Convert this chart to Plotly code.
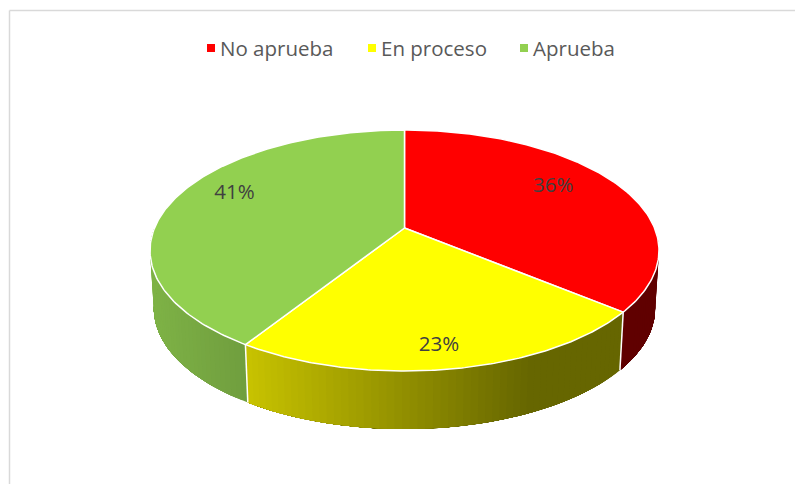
import numpy as np
import plotly.graph_objects as go

categories = ["No aprueba", "En proceso", "Aprueba"]
values = [36, 23, 41]
labels = ["36%", "23%", "41%"]
top_colors = ["#ff0000", "#ffff00", "#92d050"]

# Styling and projection (pixel-sized plot area)
W, H = 795, 484
CX, CY, A, B, K = 404.5, 228, 250, 116.3, 0.187
DEPTH, SHRINK = 58, 0.985
LABEL_R = [0.71, 0.72, 0.745]
LABEL_DY = [-9, 16, -11]
LEGEND_MARK_X = [211, 372, 524]
LEGEND_TEXT_X = [220, 381, 533]
LEGEND_Y = 48


def side_color(i, x):
    """Shaded wall colour: gradients run left to right across each wall."""
    if i == 0:
        return (96, 0, 0)
    if i == 1:
        t = np.clip((x - 245) / (530 - 245), 0, 1)
        return tuple((1 - t) * np.array([200, 195, 0]) + t * np.array([102, 102, 0]))
    t = np.clip((x - 152) / (245 - 152), 0, 1)
    return tuple((1 - t) * np.array([126, 178, 70]) + t * np.array([112, 158, 62]))


def proj(theta, r=1.0):
    d = 1 + K * np.cos(theta) * r
    return CX + A * r * np.sin(theta) / d, CY - B * r * np.cos(theta) / d


def base(theta):
    x, y = proj(theta)
    return CX + (x - CX) * SHRINK, y + DEPTH


def css(c):
    return "rgb(%d,%d,%d)" % tuple(int(round(v)) for v in c)


fracs = np.array(values) / sum(values)
edges = np.concatenate([[0], np.cumsum(fracs)]) * 2 * np.pi

fig = go.Figure()

# Walls: only the near half of the rim is visible. Each band overlaps the next
# ones so no antialiased gaps appear between them.
for i in range(3):
    start, end = edges[i], edges[i + 1]
    lo, hi = max(start, np.pi * 0.5), min(end, np.pi * 1.5)
    if hi <= lo:
        continue
    n = max(int((hi - lo) * 40), 1)
    ts = np.linspace(lo, hi, n + 1)
    # go from the right-hand side to the left for walls so later bands cover earlier
    for j in range(n):
        seg = np.linspace(ts[j], hi, max(int((hi - ts[j]) * 40), 2))
        xt, yt = proj(seg)
        xb, yb = base(seg)
        px = np.concatenate([xt, xb[::-1], xt[:1]])
        py = np.concatenate([yt, yb[::-1], yt[:1]])
        xm = proj((ts[j] + ts[j + 1]) / 2)[0]
        col = css(side_color(i, xm))
        fig.add_trace(go.Scatter(
            x=px, y=py, mode="lines", fill="toself", fillcolor=col,
            line=dict(color=col, width=0), showlegend=False, hoverinfo="skip"))

# White seams between walls
for e in edges[1:3]:
    x0, y0 = proj(e)
    x1, y1 = base(e)
    fig.add_trace(go.Scatter(x=[x0, x1], y=[y0, y1], mode="lines",
                             line=dict(color="white", width=1.5),
                             showlegend=False, hoverinfo="skip"))

# Top faces
for i in range(3):
    ts = np.linspace(edges[i], edges[i + 1], 160)
    xs, ys = proj(ts)
    fig.add_trace(go.Scatter(
        x=np.concatenate([[CX], xs, [CX]]), y=np.concatenate([[CY], ys, [CY]]),
        mode="lines", fill="toself", fillcolor=top_colors[i],
        line=dict(color="white", width=1.5), showlegend=False, hoverinfo="skip"))

# Percent labels
mids = (edges[:-1] + edges[1:]) / 2
lx, ly = proj(mids, 1.0)
lx = CX + (lx - CX) * np.array(LABEL_R)
ly = CY + (ly - CY) * np.array(LABEL_R) + np.array(LABEL_DY)
fig.add_trace(go.Scatter(x=lx, y=ly, mode="text", text=labels,
                         textfont=dict(family="Open Sans", size=20.5, color="#404040"),
                         showlegend=False, hoverinfo="skip"))

# Legend: square marks with tight text, as in the source
annotations = []
for c, col, mx, tx in zip(categories, top_colors, LEGEND_MARK_X, LEGEND_TEXT_X):
    fig.add_trace(go.Scatter(x=[mx], y=[LEGEND_Y], mode="markers", name=c,
                             marker=dict(symbol="square", size=8, color=col),
                             showlegend=False, hoverinfo="skip"))
    annotations.append(dict(x=tx, y=LEGEND_Y, xref="x", yref="y", text=c, showarrow=False,
                            xanchor="left", yanchor="middle", xshift=-2,
                            font=dict(family="Open Sans", size=20.5, color="#595959")))

fig.update_layout(
    width=W, height=H, margin=dict(l=0, r=0, t=0, b=0),
    paper_bgcolor="white", plot_bgcolor="white", showlegend=False,
    xaxis=dict(range=[0, W], visible=False, fixedrange=True),
    yaxis=dict(range=[H, 0], visible=False, fixedrange=True),
    annotations=annotations,
    shapes=[
        dict(type="line", xref="paper", yref="paper", x0=9.5 / W, x1=9.5 / W, y0=0, y1=1 - 10.5 / H,
             line=dict(color="#d9d9d9", width=1.5)),
        dict(type="line", xref="paper", yref="paper", x0=9.5 / W, x1=1, y0=1 - 10.5 / H, y1=1 - 10.5 / H,
             line=dict(color="#d9d9d9", width=1.5)),
    ],
)
fig.write_html("out.html", config={"displayModeBar": False},
               post_script="document.body.style.margin='0';document.body.style.overflow='hidden';")
